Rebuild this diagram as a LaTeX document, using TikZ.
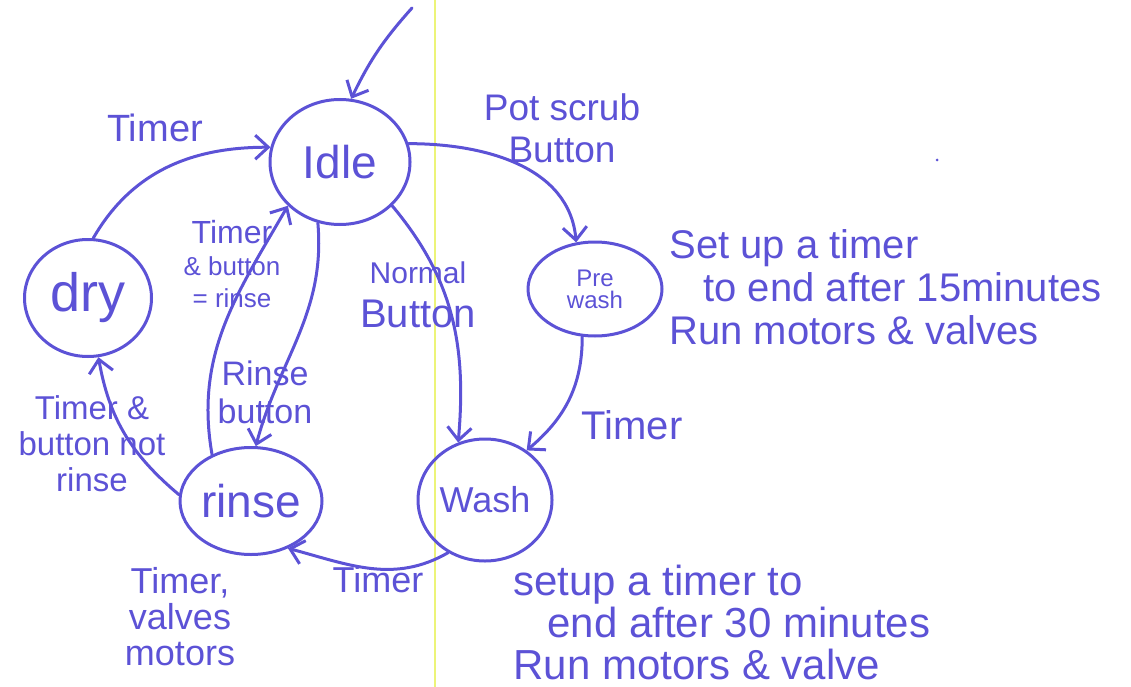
\documentclass[tikz,border=0pt]{standalone}
\usepackage{fontspec}
\setmainfont{Liberation Sans}
\usetikzlibrary{arrows,arrows.meta,positioning,shapes.geometric}
\definecolor{penColor}{RGB}{92,82,214}
\definecolor{foldColor}{RGB}{236,244,120}
\newcommand{\hand}[2]{\fontsize{#1}{#2}\selectfont}
\tikzset{
	phase/.style={draw, ellipse, inner sep=0pt, line width=3pt, text=penColor, align=center},
	tag/.style={text=penColor, align=center, inner sep=1pt},
	note/.style={text=penColor, align=left, inner sep=0pt, anchor=west}
}

\begin{document}
\begin{tikzpicture}[x=1pt, y=1pt, ->, >={Straight Barb[length=13pt,width=24pt]},
		line width=3pt, color=penColor, line cap=round, line join=round]
		\useasboundingbox (0,0) rectangle (1131,-687);
		% fold of the paper
		\draw[-, foldColor, line width=1.2pt] (435,0) -- (435,-687);
		\fill (937,-160) circle (1.5pt);
		% states
		\node[phase, minimum width=140pt, minimum height=125pt, font=\hand{46}{50}] (idle) at (340,-162) {Idle};
		\node[phase, minimum width=134pt, minimum height=94pt, font=\hand{24}{22}] (prewash) at (595,-289) {Pre\\wash};
		\node[phase, minimum width=127pt, minimum height=117pt, font=\hand{54}{58}] (dry) at (88,-298) {dry};
		\node[phase, minimum width=142pt, minimum height=107pt, font=\hand{46}{50}] (rinse) at (251,-501) {rinse};
		\node[phase, minimum width=134pt, minimum height=122pt, font=\hand{36}{40}] (wash) at (485,-500) {Wash};
		\coordinate (entry) at (412,-8);
		% transitions
		\path (entry) edge[bend right=8] (idle.80);
		\path (idle.15) edge[out=0, in=95] (prewash.112);
		\path (idle.-40) edge[out=-50, in=85] (wash.115);
		\path (prewash.-105) edge[out=-90, in=40] (wash.50);
		\path (wash.-125) edge[out=-150, in=-15] (rinse.-52);
		\path (rinse.130) edge[out=100, in=-120] (idle.-140);
		\path (idle.-110) edge[out=-85, in=75] (rinse.85);
		\path (rinse.175) edge[out=140, in=-80] (dry.-80);
		\path (dry.85) edge[out=60, in=180] (idle.168);
		% transition labels
		\node[tag, font=\hand{38}{42}] (t_dry) at (155,-128) {Timer};
		\node[tag, font=\hand{37}{42}] (t_pot) at (562,-128) {Pot scrub\\Button};
		\node[tag, font=\hand{26}{32}] (t_back) at (232,-264) {{\hand{32}{34}Timer}\\\& button\\= rinse};
		\node[tag, font=\hand{40}{44}] (t_normal) at (418,-295) {{\hand{30}{30}Normal}\\Button};
		\node[tag, font=\hand{34}{38}] (t_rinse) at (265,-392) {Rinse\\button};
		\node[tag, font=\hand{40}{46}] (t_pre) at (632,-425) {Timer};
		\node[tag, font=\hand{33}{36}] (t_notrinse) at (92,-444) {Timer \&\\button not\\rinse};
		\node[tag, font=\hand{36}{40}] (t_wash) at (378,-580) {Timer};
		% actions
		\node[tag, font=\hand{36}{36}] (a_rinse) at (180,-617) {Timer,\\valves\\motors};
		\node[note, font=\hand{40}{43}] (a_pre) at (668,-287) {Set up a timer\\\hspace{34pt}to end after 15minutes\\Run motors \& valves};
		\node[note, font=\hand{42}{42}] (a_wash) at (512,-622) {setup a timer to\\\hspace{34pt}end after 30 minutes\\Run motors \& valve};
	\end{tikzpicture}
\end{document}
